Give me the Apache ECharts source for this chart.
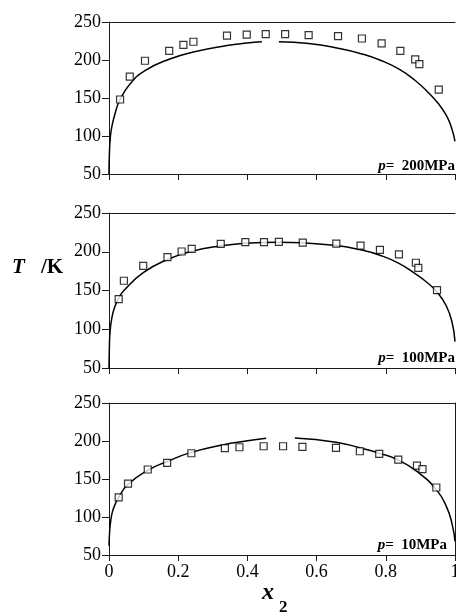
<!DOCTYPE html>
<html><head><meta charset="utf-8">
<script src="https://cdn.jsdelivr.net/npm/echarts@6/dist/echarts.min.js"></script>
<style>html,body{margin:0;padding:0;background:#fff}#c{width:456px;height:612px}</style>
</head><body><div id="c"></div><script>
// ---------- data ----------
const xTickValues = [0, 0.2, 0.4, 0.6, 0.8, 1];
const yTickValues = [50, 100, 150, 200, 250];
const panelLabels = ['200MPa', '100MPa', '10MPa'];

// p = 200 MPa : experimental points
const obs200X = [0.032, 0.060, 0.104, 0.174, 0.215, 0.244, 0.341, 0.398, 0.453, 0.509, 0.577, 0.662, 0.731, 0.788, 0.842, 0.885, 0.897, 0.953];
const obs200T = [148, 178, 199, 212, 220, 224, 232, 233.5, 234, 234, 232.6, 231.3, 228.3, 222, 212, 200.7, 194.6, 161];
// p = 200 MPa : calculated curve (two branches)
const fit200LX = [0, 0.001, 0.004, 0.009, 0.016, 0.030, 0.060, 0.104, 0.174, 0.244, 0.341, 0.398, 0.442];
const fit200LT = [50, 74, 99, 114, 127, 146, 168, 186, 201, 210.5, 219, 222.3, 224];
const fit200RX = [0.491, 0.577, 0.662, 0.731, 0.788, 0.842, 0.885, 0.921, 0.953, 0.975, 0.990, 1.0];
const fit200RT = [224, 221.7, 215.5, 208, 199, 187, 173, 158, 142, 127, 111, 93];

// p = 100 MPa
const obs100X = [0.028, 0.043, 0.099, 0.169, 0.210, 0.239, 0.323, 0.394, 0.448, 0.491, 0.560, 0.657, 0.727, 0.783, 0.838, 0.887, 0.894, 0.948];
const obs100T = [139, 162.6, 181.9, 193, 200.3, 203.8, 210.2, 212.3, 212.3, 212.8, 211.9, 210.6, 208, 202.5, 196.5, 185.8, 179.3, 150.5];
const fit100X = [0, 0.001, 0.003, 0.008, 0.016, 0.028, 0.043, 0.099, 0.169, 0.239, 0.323, 0.394, 0.491, 0.560, 0.657, 0.727, 0.783, 0.838, 0.887, 0.920, 0.948, 0.975, 0.992, 1.0];
const fit100T = [50, 74, 97, 114, 128, 140, 150, 173, 190, 200.5, 207.5, 211, 212.3, 211.5, 208, 202.5, 195.5, 185, 171, 160, 148, 130, 108, 84];

// p = 10 MPa
const obs10X = [0.028, 0.055, 0.112, 0.168, 0.238, 0.335, 0.377, 0.447, 0.503, 0.559, 0.656, 0.725, 0.781, 0.836, 0.890, 0.906, 0.946];
const obs10T = [125.7, 144, 162.5, 171.2, 183.9, 190.5, 191.8, 193.1, 193.1, 192.2, 190.9, 186.5, 183, 175.6, 167.7, 162.9, 138.8];
const fit10LX = [0, 0.002, 0.005, 0.010, 0.018, 0.028, 0.055, 0.112, 0.168, 0.238, 0.335, 0.377, 0.454];
const fit10LT = [62, 82, 95, 107, 117, 126, 143, 161.5, 173, 185, 195.5, 198.8, 203.5];
const fit10RX = [0.537, 0.656, 0.725, 0.781, 0.836, 0.890, 0.946, 0.975, 0.992, 1.0];
const fit10RT = [204, 198.5, 191, 184, 175, 160, 136, 114, 90, 68];

// ---------- chart ----------
const zip = (xs, ys) => xs.map((x, i) => [x, ys[i]]);
const FONT = '"Liberation Serif","Times New Roman",serif';
const AX = '#1a1a1a';

const grids = [
  {left: 109, right: 1, top: 22, height: 152, outerBoundsMode: 'none', containLabel: false},
  {left: 109, right: 1, top: 213, height: 155, outerBoundsMode: 'none', containLabel: false},
  {left: 109, right: 1, top: 403, height: 152, outerBoundsMode: 'none', containLabel: false}
];

const xAxes = [], yAxes = [];
grids.forEach((g, i) => {
  const isBottom = i === 2;
  xAxes.push({
    type: 'value', gridIndex: i, min: 0, max: 1, interval: 0.2, position: 'bottom',
    axisLine: {show: true, onZero: false, lineStyle: {color: AX, width: 1}},
    axisTick: {show: true, inside: false, length: 6, lineStyle: {color: AX}},
    axisLabel: {show: isBottom, margin: 8, color: '#000', fontFamily: FONT, fontSize: 18,
      showMaxLabel: true,
      formatter: v => xTickValues.includes(Math.round(v * 10) / 10) ? String(Math.round(v * 10) / 10) : ''},
    splitLine: {show: false}
  });
  xAxes.push({
    type: 'value', gridIndex: i, min: 0, max: 1, position: 'top',
    axisLine: {show: true, onZero: false, lineStyle: {color: AX, width: 1}},
    axisTick: {show: false}, axisLabel: {show: false}, splitLine: {show: false}
  });
  yAxes.push({
    type: 'value', gridIndex: i, min: 50, max: 250, interval: 50, position: 'left',
    axisLine: {show: true, onZero: false, lineStyle: {color: AX, width: 1}},
    axisTick: {show: true, inside: false, length: 7, lineStyle: {color: AX}},
    axisLabel: {show: true, margin: 8, color: '#000', fontFamily: FONT, fontSize: 18},
    splitLine: {show: false}
  });
  yAxes.push({
    type: 'value', gridIndex: i, min: 50, max: 250, position: 'right',
    axisLine: {show: isBottom, onZero: false, lineStyle: {color: AX, width: 1}},
    axisTick: {show: false}, axisLabel: {show: false}, splitLine: {show: false}
  });
});

const lineStyle = {color: '#000', width: 1.5};
function curve(i, xs, ys) {
  return {type: 'line', xAxisIndex: i * 2, yAxisIndex: i * 2, data: zip(xs, ys),
    smooth: 0.5, showSymbol: false, symbol: 'none',
    lineStyle: lineStyle, z: 2, silent: true};
}
function pts(i, xs, ys) {
  return {type: 'scatter', xAxisIndex: i * 2, yAxisIndex: i * 2, data: zip(xs, ys),
    symbol: 'rect', symbolSize: 7,
    itemStyle: {color: '#fff', borderColor: '#000', borderWidth: 1.2}, z: 3, silent: true};
}

const series = [
  curve(0, fit200LX, fit200LT), curve(0, fit200RX, fit200RT), pts(0, obs200X, obs200T),
  curve(1, fit100X, fit100T), pts(1, obs100X, obs100T),
  curve(2, fit10LX, fit10LT), curve(2, fit10RX, fit10RT), pts(2, obs10X, obs10T)
];

const rich = {
  i: {fontFamily: FONT, fontStyle: 'italic', fontWeight: 'bold', fontSize: 15, fill: '#000', color: '#000'},
  b: {fontFamily: FONT, fontWeight: 'bold', fontSize: 15, fill: '#000', color: '#000'}
};
const labelPos = [[455, 166], [455, 358], [447, 545]];
const graphic = panelLabels.map((t, i) => ({
  type: 'text', x: labelPos[i][0], y: labelPos[i][1],
  style: {text: '{i|p}{b|=  ' + t + '}', rich: rich, align: 'right', verticalAlign: 'middle'}
}));
graphic.push({
  type: 'text', x: 12, y: 268,
  style: {text: 'T', fontFamily: FONT, fontStyle: 'italic', fontWeight: 'bold', fontSize: 21, fill: '#000', verticalAlign: 'middle'}
});
graphic.push({
  type: 'text', x: 41, y: 268,
  style: {text: '/K', fontFamily: FONT, fontWeight: 'bold', fontSize: 21, fill: '#000', verticalAlign: 'middle'}
});
graphic.push({
  type: 'text', x: 262, y: 593,
  style: {text: 'x', fontFamily: FONT, fontStyle: 'italic', fontWeight: 'bold', fontSize: 24, fill: '#000', verticalAlign: 'middle'}
});
graphic.push({
  type: 'text', x: 279, y: 608,
  style: {text: '2', fontFamily: FONT, fontWeight: 'bold', fontSize: 17, fill: '#000', verticalAlign: 'middle'}
});

const chart = echarts.init(document.getElementById('c'), null, {renderer: 'canvas'});
chart.setOption({
  animation: false,
  backgroundColor: '#fff',
  grid: grids,
  xAxis: xAxes,
  yAxis: yAxes,
  series: series,
  graphic: graphic
});
</script></body></html>
